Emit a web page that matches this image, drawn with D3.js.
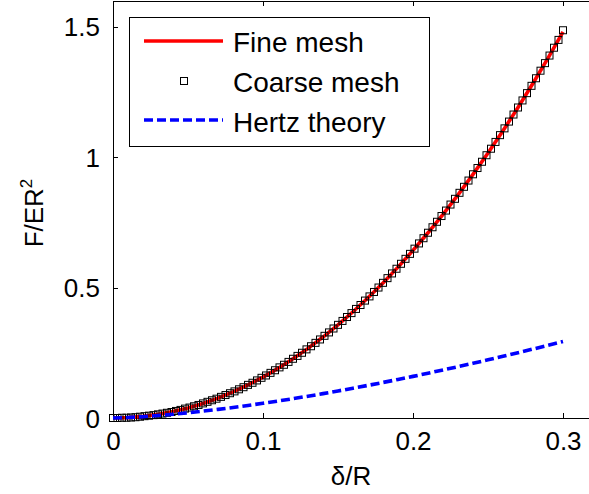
<!DOCTYPE html>
<html>
<head>
<meta charset="utf-8">
<script src="https://cdn.jsdelivr.net/npm/d3@7"></script>
<style>
    body { margin: 0; background: #fff; }
    text { font-family: "Liberation Sans", Arial, sans-serif; fill: #000; }
</style>
</head>
<body>
<div id="chart"></div>
<script>
// force vs indentation: fine mesh, coarse mesh, hertz theory

// fine mesh, every 0.01
const fineX = [0, 0.01, 0.02, 0.03, 0.04, 0.05, 0.06, 0.07, 0.08, 0.09, 0.10,
    0.11, 0.12, 0.13, 0.14, 0.15, 0.16, 0.17, 0.18, 0.19, 0.20,
    0.21, 0.22, 0.23, 0.24, 0.25, 0.26, 0.27, 0.28, 0.29, 0.30];
const fineF = [0, 0.0015, 0.0061, 0.0139, 0.0247, 0.0387, 0.0559, 0.0762, 0.0998, 0.1266, 0.1567,
    0.1901, 0.2268, 0.2668, 0.3102, 0.3570, 0.4071, 0.4607, 0.5177, 0.5782, 0.6422,
    0.7098, 0.7808, 0.8554, 0.9337, 1.0155, 1.1009, 1.1900, 1.2828, 1.3793, 1.4795];

// coarse mesh, every 0.003 (x = 0.003 * index)
const coarseStep = 0.003;
const coarseF = [0, 0, 0.001, 0.001, 0.002, 0.003, 0.005, 0.007, 0.009, 0.011,
    0.014, 0.017, 0.020, 0.023, 0.027, 0.031, 0.036, 0.040, 0.045, 0.050,
    0.056, 0.062, 0.068, 0.074, 0.081, 0.088, 0.095, 0.102, 0.110, 0.118,
    0.127, 0.135, 0.144, 0.154, 0.163, 0.173, 0.183, 0.194, 0.204, 0.215,
    0.227, 0.238, 0.250, 0.263, 0.275, 0.288, 0.301, 0.315, 0.328, 0.343,
    0.357, 0.372, 0.387, 0.402, 0.418, 0.433, 0.450, 0.466, 0.483, 0.500,
    0.518, 0.536, 0.554, 0.572, 0.591, 0.610, 0.629, 0.649, 0.669, 0.689,
    0.710, 0.731, 0.752, 0.774, 0.795, 0.818, 0.840, 0.863, 0.886, 0.910,
    0.934, 0.958, 0.982, 1.007, 1.032, 1.058, 1.084, 1.110, 1.136, 1.163,
    1.190, 1.217, 1.245, 1.273, 1.302, 1.331, 1.360, 1.389, 1.419, 1.449,
    1.486];

// hertz theory, every 0.01
const hertzF = [0, 0.0018, 0.0050, 0.0093, 0.0143, 0.0199, 0.0262, 0.0330, 0.0403, 0.0481, 0.0564,
    0.0650, 0.0741, 0.0836, 0.0934, 0.1036, 0.1141, 0.1250, 0.1362, 0.1477, 0.1595,
    0.1716, 0.1840, 0.1967, 0.2096, 0.2229, 0.2364, 0.2501, 0.2642, 0.2785, 0.2930];

const xTicks = [0, 0.1, 0.2, 0.3];
const yTicks = [0, 0.5, 1, 1.5];
const legendLabels = ["Fine mesh", "Coarse mesh", "Hertz theory"];

// svg width and height
const svgWidth = 589;
const svgHeight = 494;

const margin = {
    top: 0.5,
    right: -4,
    bottom: 76,
    left: 113
};

const width = svgWidth - margin.left - margin.right;
const height = svgHeight - margin.top - margin.bottom;

const svg = d3
    .select("#chart")
    .append("svg")
    .attr("width", svgWidth)
    .attr("height", svgHeight);

const chartGroup = svg.append("g")
    .attr("transform", `translate(${margin.left}, ${margin.top})`);

const xLinearScale = d3.scaleLinear()
    .domain([0, 0.32])
    .range([0, width]);

const yLinearScale = d3.scaleLinear()
    .domain([0, 1.6])
    .range([height, 0]);

const tickFont = 26;

// axes, matlab style: ticks pointing in, box round the plot
const bottomAxis = d3.axisBottom(xLinearScale)
    .tickValues(xTicks)
    .tickSizeInner(-5)
    .tickSizeOuter(0)
    .tickPadding(14)
    .tickFormat(d3.format("~g"));

const topAxis = d3.axisTop(xLinearScale)
    .tickValues(xTicks)
    .tickSizeInner(-5)
    .tickSizeOuter(0)
    .tickFormat("");

const leftAxis = d3.axisLeft(yLinearScale)
    .tickValues(yTicks)
    .tickSizeInner(-5)
    .tickSizeOuter(0)
    .tickPadding(13)
    .tickFormat(d3.format("~g"));

const xAxis = chartGroup.append("g")
    .attr("transform", `translate(0, ${height})`)
    .call(bottomAxis);

chartGroup.append("g")
    .call(topAxis);

const yAxis = chartGroup.append("g")
    .call(leftAxis);

chartGroup.append("line")
    .attr("x1", width).attr("x2", width)
    .attr("y1", 0).attr("y2", height)
    .attr("stroke", "#000");

chartGroup.selectAll(".domain, .tick line")
    .attr("stroke", "#000")
    .attr("shape-rendering", "crispEdges");

chartGroup.selectAll(".tick text")
    .style("font-size", `${tickFont}px`)
    .style("font-family", "Liberation Sans, Arial, sans-serif")
    .attr("fill", "#000");

xAxis.selectAll(".tick text").attr("dy", "0.71em");
yAxis.selectAll(".tick text").attr("dy", "0.36em");

// curves
const fineLine = d3.line()
    .x((d, i) => xLinearScale(fineX[i]))
    .y(d => yLinearScale(d));

chartGroup.append("path")
    .datum(fineF)
    .attr("fill", "none")
    .attr("stroke", "#ff0000")
    .attr("stroke-width", 3.6)
    .attr("d", fineLine);

const sq = 7;
chartGroup.selectAll(".coarse")
    .data(coarseF)
    .enter()
    .append("rect")
    .attr("class", "coarse")
    .attr("x", (d, i) => xLinearScale(i * coarseStep) - sq / 2)
    .attr("y", d => yLinearScale(d) - sq / 2)
    .attr("width", sq)
    .attr("height", sq)
    .attr("fill", "none")
    .attr("stroke", "#000")
    .attr("stroke-width", 1);

const hertzLine = d3.line()
    .x((d, i) => xLinearScale(fineX[i]))
    .y(d => yLinearScale(d));

chartGroup.append("path")
    .datum(hertzF)
    .attr("fill", "none")
    .attr("stroke", "#0000ff")
    .attr("stroke-width", 3.6)
    .attr("stroke-dasharray", "9,4")
    .attr("d", hertzLine);

// legend
const legend = svg.append("g")
    .attr("transform", "translate(129, 17)");

legend.append("rect")
    .attr("x", 0.5)
    .attr("y", 0.5)
    .attr("width", 300)
    .attr("height", 129)
    .attr("fill", "#fff")
    .attr("stroke", "#000")
    .attr("shape-rendering", "crispEdges");

legend.append("line")
    .attr("x1", 15).attr("x2", 94)
    .attr("y1", 24).attr("y2", 24)
    .attr("stroke", "#ff0000")
    .attr("stroke-width", 3.4);

legend.append("rect")
    .attr("x", 55 - sq / 2)
    .attr("y", 64 - sq / 2)
    .attr("width", sq)
    .attr("height", sq)
    .attr("fill", "none")
    .attr("stroke", "#000");

legend.append("line")
    .attr("x1", 15).attr("x2", 94)
    .attr("y1", 103).attr("y2", 103)
    .attr("stroke", "#0000ff")
    .attr("stroke-width", 3.4)
    .attr("stroke-dasharray", "9,4");

legend.selectAll(".label")
    .data(legendLabels)
    .enter()
    .append("text")
    .attr("class", "label")
    .attr("x", 104)
    .attr("y", (d, i) => 35 + i * 40)
    .style("font-size", "28px")
    .text(d => d);

// axis labels
svg.append("text")
    .attr("x", 351)
    .attr("y", 485)
    .attr("text-anchor", "middle")
    .style("font-size", "26px")
    .text("\u03b4/R");

const yLabel = svg.append("text")
    .attr("transform", "translate(43, 213) rotate(-90)")
    .attr("text-anchor", "middle")
    .style("font-size", "26px");

yLabel.append("tspan").text("F/ER");
yLabel.append("tspan")
    .attr("dy", -11)
    .style("font-size", "17px")
    .text("2");
</script>
</body>
</html>
